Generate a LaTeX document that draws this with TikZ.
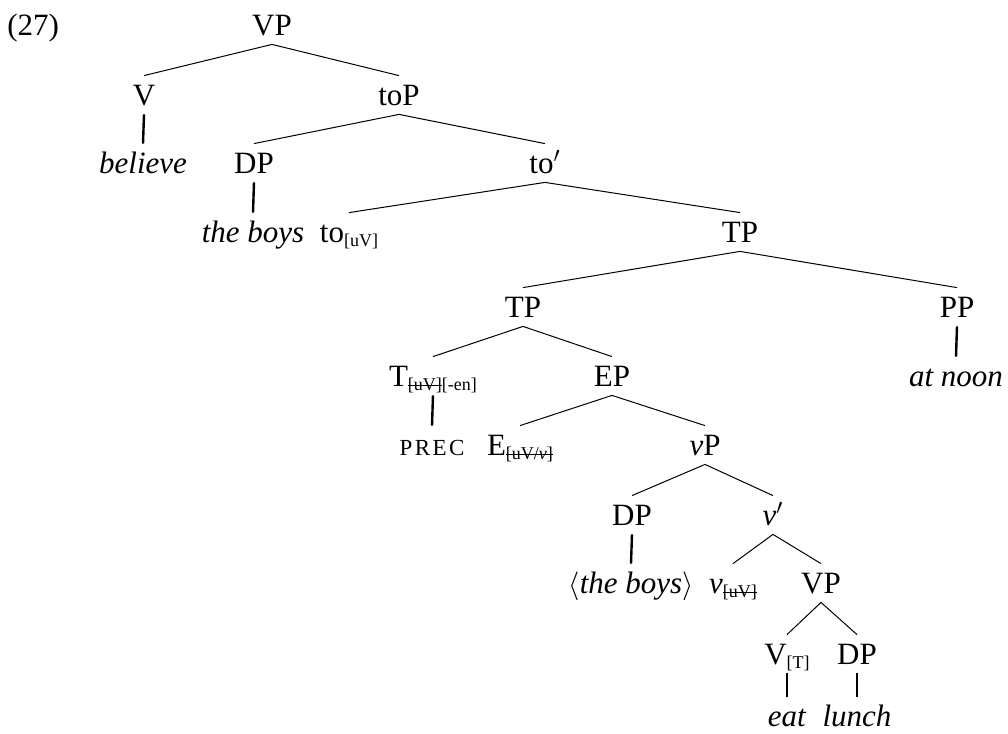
\documentclass[tikz,border=0pt]{standalone}
\usepackage{fontspec}
\setmainfont{Liberation Serif}
% features written low and small after a head
\newcommand{\feat}[1]{\raisebox{-0.35ex}{\fontsize{9}{10}\selectfont #1}}
% checked feature: struck through
\newcommand{\chkd}[1]{\setbox0\hbox{#1}\rlap{\rule[0.55ex]{\wd0}{0.5pt}}\box0}
\newcommand{\precw}{{\fontsize{11.5}{12}\selectfont P\kern1.2ptR\kern1.2ptE\kern1.2ptC}}

\begin{document}
\begin{tikzpicture}[x=0.5pt, y=-0.5pt,
    lbl/.style={inner xsep=0pt, inner ysep=2.5pt, text height=12pt, text depth=2pt,
                font=\fontsize{15.5}{17}\selectfont, yshift=1pt},
    branch/.style={line width=0.5pt},
    unary/.style={line width=1.2pt}]
    \useasboundingbox (0,0) rectangle (1008,734);

    \node[lbl, anchor=west] (ex) at (7,27) {(27)};

    % matrix verb and toP
    \node[lbl] (vp) at (272,27) {VP};
    \node[lbl] (v) at (144,97) {V};
    \node[lbl] (believe) at (143,165) {\textit{believe}};
    \node[lbl] (toP) at (399,97) {toP};
    \node[lbl] (dp) at (254,165) {DP};
    \node[lbl] (boys) at (253,234) {\textit{the boys}};
    \node[lbl] (tobar) at (545,165) {to$'$};
    \node[lbl] (to) at (349,234) {to\feat{[uV]}};
    \node[lbl] (tp) at (740,234) {TP};

    % lower TP with the adjunct
    \node[lbl] (tpl) at (523,309) {TP};
    \node[lbl] (pp) at (957,309) {PP};
    \node[lbl] (noon) at (956,378) {\textit{at noon}};
    \node[lbl] (t) at (433,378) {T\feat{\chkd{[uV]}[-en]}};
    \node[lbl] (ep) at (612,378) {EP};
    \node[lbl] (prec) at (432,447) {\precw};
    \node[lbl] (e) at (520,447) {E\feat{\chkd{[uV/\textit{v}]}}};
    \node[lbl] (vsp) at (705,447) {\textit{v}P};

    % vP shell
    \node[lbl] (dpl) at (632,517) {DP};
    \node[lbl] (vbar) at (773,517) {\textit{v}$'$};
    \node[lbl] (copy) at (631,585) {$\langle$\textit{the boys}$\rangle$};
    \node[lbl] (lv) at (733,585) {\textit{v}\feat{\chkd{[uV]}}};
    \node[lbl] (vpl) at (821,585) {VP};
    \node[lbl] (vt) at (787,656) {V\feat{[T]}};
    \node[lbl] (dpo) at (857,656) {DP};
    \node[lbl] (eat) at (787,718) {\textit{eat}};
    \node[lbl] (lunch) at (857,718) {\textit{lunch}};

    % branches
    \draw[branch] (v.north) -- (vp.south) -- (toP.north);
    \draw[branch] (dp.north) -- (toP.south) -- (tobar.north);
    \draw[branch] (to.north) -- (tobar.south) -- (tp.north);
    \draw[branch] (tpl.north) -- (tp.south) -- (pp.north);
    \draw[branch] (t.north) -- (tpl.south) -- (ep.north);
    \draw[branch] (e.north) -- (ep.south) -- (vsp.north);
    \draw[branch] (dpl.north) -- (vsp.south) -- (vbar.north);
    \draw[branch] (lv.north) -- (vbar.south) -- (vpl.north);
    \draw[branch] (vt.north) -- (vpl.south) -- (dpo.north);

    % non-branching
    \draw[unary] (v.south) -- (believe.north);
    \draw[unary] (dp.south) -- (boys.north);
    \draw[unary] (pp.south) -- (noon.north);
    \draw[unary] (t.south) -- (prec.north);
    \draw[unary] (dpl.south) -- (copy.north);
    \draw[unary] (vt.south) -- (eat.north);
    \draw[unary] (dpo.south) -- (lunch.north);
\end{tikzpicture}
\end{document}
